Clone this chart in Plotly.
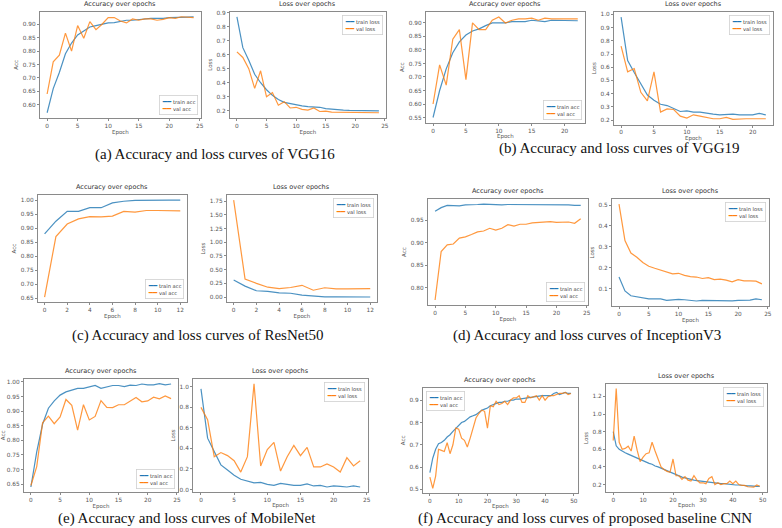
import plotly.graph_objects as go

W, H = 782, 528

# ---------------- data ----------------
vgg16_train_acc = [0.57, 0.66, 0.72, 0.79, 0.83, 0.86, 0.875, 0.89, 0.895, 0.90, 0.905, 0.906, 0.91, 0.915,
                   0.915, 0.918, 0.92, 0.922, 0.922, 0.922, 0.925, 0.925, 0.926, 0.927, 0.928]
vgg16_val_acc = [0.64, 0.76, 0.785, 0.867, 0.80, 0.895, 0.848, 0.91, 0.88, 0.90, 0.925, 0.925, 0.912, 0.905,
                 0.92, 0.915, 0.92, 0.92, 0.915, 0.918, 0.925, 0.922, 0.928, 0.926, 0.925]
vgg16_train_loss = [0.87, 0.65, 0.56, 0.46, 0.40, 0.35, 0.31, 0.28, 0.26, 0.25, 0.245, 0.235, 0.23, 0.228,
                    0.225, 0.215, 0.21, 0.205, 0.205, 0.203, 0.203, 0.20, 0.20, 0.198, 0.20]
vgg16_val_loss = [0.62, 0.58, 0.50, 0.36, 0.485, 0.30, 0.33, 0.24, 0.265, 0.22, 0.225, 0.21, 0.205, 0.22,
                  0.195, 0.198, 0.19, 0.19, 0.19, 0.19, 0.188, 0.188, 0.187, 0.186, 0.186]

vgg19_train_acc = [0.55, 0.65, 0.73, 0.79, 0.83, 0.855, 0.87, 0.878, 0.89, 0.90, 0.90, 0.90, 0.905, 0.905,
                   0.905, 0.91, 0.908, 0.905, 0.91, 0.91, 0.91, 0.91, 0.908]
vgg19_val_acc = [0.60, 0.745, 0.67, 0.84, 0.875, 0.69, 0.90, 0.875, 0.875, 0.91, 0.922, 0.90, 0.91, 0.915,
                 0.915, 0.918, 0.91, 0.918, 0.915, 0.915, 0.915, 0.915, 0.915]
vgg19_train_loss = [0.98, 0.65, 0.56, 0.47, 0.39, 0.35, 0.32, 0.31, 0.29, 0.265, 0.27, 0.26, 0.26, 0.25,
                    0.245, 0.24, 0.245, 0.245, 0.24, 0.24, 0.24, 0.25, 0.24]
vgg19_val_loss = [0.76, 0.565, 0.59, 0.41, 0.345, 0.565, 0.26, 0.285, 0.28, 0.23, 0.215, 0.24, 0.23, 0.22,
                  0.21, 0.21, 0.22, 0.205, 0.21, 0.21, 0.21, 0.21, 0.21]

resnet_train_acc = [0.88, 0.925, 0.96, 0.96, 0.973, 0.973, 0.99, 0.996, 0.999, 1.0, 1.0, 1.0, 1.0]
resnet_val_acc = [0.655, 0.87, 0.915, 0.933, 0.941, 0.94, 0.943, 0.96, 0.957, 0.963, 0.963, 0.962, 0.962]
resnet_train_loss = [0.31, 0.20, 0.115, 0.105, 0.075, 0.07, 0.035, 0.015, 0.005, 0.003, 0.002, 0.002, 0.001]
resnet_val_loss = [1.77, 0.33, 0.25, 0.18, 0.155, 0.175, 0.215, 0.125, 0.17, 0.15, 0.15, 0.15, 0.155]

incep_train_acc = [0.970, 0.978, 0.983, 0.983, 0.982, 0.984, 0.984, 0.985, 0.986, 0.985, 0.984, 0.984, 0.985,
                   0.985, 0.985, 0.985, 0.985, 0.985, 0.984, 0.985, 0.985, 0.985, 0.984, 0.983, 0.983]
incep_val_acc = [0.772, 0.88, 0.895, 0.897, 0.91, 0.913, 0.918, 0.924, 0.926, 0.932, 0.928, 0.932, 0.94,
                 0.937, 0.941, 0.941, 0.944, 0.945, 0.945, 0.947, 0.945, 0.946, 0.946, 0.943, 0.953]
incep_train_loss = [0.155, 0.088, 0.065, 0.06, 0.058, 0.05, 0.05, 0.05, 0.043, 0.047, 0.048, 0.046, 0.042,
                    0.04, 0.043, 0.042, 0.042, 0.041, 0.041, 0.041, 0.043, 0.042, 0.044, 0.05, 0.046]
incep_val_loss = [0.505, 0.33, 0.27, 0.25, 0.225, 0.207, 0.197, 0.187, 0.18, 0.17, 0.173, 0.163, 0.157,
                  0.155, 0.148, 0.152, 0.143, 0.145, 0.14, 0.132, 0.142, 0.137, 0.137, 0.135, 0.122]

mobile_train_acc = [0.64, 0.76, 0.855, 0.91, 0.935, 0.955, 0.966, 0.972, 0.978, 0.978, 0.983, 0.988, 0.978,
                    0.983, 0.988, 0.988, 0.984, 0.989, 0.988, 0.993, 0.99, 0.99, 0.994, 0.99, 0.993]
mobile_val_acc = [0.645, 0.71, 0.86, 0.883, 0.857, 0.88, 0.94, 0.92, 0.835, 0.922, 0.87, 0.882, 0.936,
                  0.913, 0.912, 0.922, 0.922, 0.935, 0.947, 0.932, 0.935, 0.948, 0.942, 0.952, 0.943]
mobile_train_loss = [0.98, 0.50, 0.37, 0.24, 0.19, 0.14, 0.10, 0.08, 0.065, 0.07, 0.05, 0.04, 0.06, 0.05,
                     0.04, 0.04, 0.055, 0.035, 0.04, 0.025, 0.035, 0.03, 0.025, 0.035, 0.025]
mobile_val_loss = [0.80, 0.68, 0.32, 0.36, 0.33, 0.28, 0.17, 0.32, 1.03, 0.23, 0.39, 0.46, 0.18, 0.32,
                   0.43, 0.33, 0.41, 0.22, 0.22, 0.25, 0.22, 0.17, 0.31, 0.23, 0.28]

cnn_train_acc = [0.575, 0.64, 0.68, 0.705, 0.71, 0.72, 0.735, 0.745, 0.76, 0.775, 0.79, 0.80, 0.805, 0.815,
                 0.825, 0.83, 0.835, 0.845, 0.855, 0.86, 0.865, 0.875, 0.88, 0.885, 0.89, 0.89, 0.895, 0.895,
                 0.90, 0.90, 0.905, 0.905, 0.907, 0.91, 0.91, 0.912, 0.915, 0.915, 0.918, 0.92, 0.92, 0.92,
                 0.92, 0.93, 0.935, 0.925, 0.93, 0.935, 0.93, 0.93]
cnn_val_acc = [0.555, 0.505, 0.56, 0.68, 0.675, 0.67, 0.71, 0.66, 0.70, 0.775, 0.77, 0.73, 0.72, 0.69,
               0.73, 0.78, 0.82, 0.84, 0.855, 0.85, 0.775, 0.875, 0.87, 0.895, 0.88, 0.885, 0.895, 0.88,
               0.90, 0.91, 0.91, 0.92, 0.89, 0.89, 0.92, 0.91, 0.915, 0.92, 0.90, 0.92, 0.90, 0.915, 0.92,
               0.92, 0.925, 0.93, 0.93, 0.935, 0.925, 0.93]
cnn_train_loss = [0.80, 0.64, 0.60, 0.575, 0.56, 0.545, 0.53, 0.51, 0.50, 0.48, 0.47, 0.45, 0.44, 0.43,
                  0.41, 0.40, 0.385, 0.37, 0.355, 0.34, 0.325, 0.31, 0.30, 0.285, 0.275, 0.265, 0.255, 0.25,
                  0.245, 0.24, 0.235, 0.23, 0.225, 0.22, 0.22, 0.215, 0.21, 0.21, 0.205, 0.20, 0.20, 0.195,
                  0.195, 0.19, 0.19, 0.185, 0.185, 0.18, 0.18, 0.18]
cnn_val_loss = [0.70, 1.29, 0.68, 0.60, 0.61, 0.635, 0.58, 0.75, 0.59, 0.46, 0.51, 0.55, 0.56, 0.68, 0.58,
                0.48, 0.40, 0.37, 0.35, 0.34, 0.49, 0.30, 0.30, 0.26, 0.29, 0.25, 0.24, 0.30, 0.25, 0.22,
                0.22, 0.21, 0.27, 0.29, 0.20, 0.22, 0.20, 0.21, 0.21, 0.24, 0.21, 0.24, 0.20, 0.19, 0.19,
                0.175, 0.17, 0.17, 0.195, 0.18]

captions = ["(a) Accuracy and loss curves of VGG16",
            "(b) Accuracy and loss curves of VGG19",
            "(c) Accuracy and loss curves of ResNet50",
            "(d) Accuracy and loss curves of InceptionV3",
            "(e) Accuracy and loss curves of MobileNet",
            "(f) Accuracy and loss curves of proposed baseline CNN"]

# ---------------- layout description ----------------
BLUE, ORANGE = "#1f77b4", "#ff7f0e"
FONT = "DejaVu Sans"

# box = (left, right, top, bottom) in pixels
panels = [
    dict(kind="acc", tr=vgg16_train_acc, va=vgg16_val_acc, box=(39, 201, 10, 116), dy=0.05, fmt=".2f", dx=5, leg="br"),
    dict(kind="loss", tr=vgg16_train_loss, va=vgg16_val_loss, box=(230, 387, 10, 116), dy=0.1, fmt=".1f", dx=5, leg="tr"),
    dict(kind="acc", tr=vgg19_train_acc, va=vgg19_val_acc, box=(427, 587, 10, 121), dy=0.05, fmt=".2f", dx=5, leg="br"),
    dict(kind="loss", tr=vgg19_train_loss, va=vgg19_val_loss, box=(616, 776, 10, 123), dy=0.1, fmt=".1f", dx=5, leg="tr"),
    dict(kind="acc", tr=resnet_train_acc, va=resnet_val_acc, box=(37, 187, 194, 301), dy=0.05, fmt=".2f", dx=2, leg="br"),
    dict(kind="loss", tr=resnet_train_loss, va=resnet_val_loss, box=(227, 378, 194, 301), dy=0.25, fmt=".2f", dx=2, leg="tr"),
    dict(kind="acc", tr=incep_train_acc, va=incep_val_acc, box=(429, 590, 198, 304), dy=0.05, fmt=".2f", dx=5, leg="br"),
    dict(kind="loss", tr=incep_train_loss, va=incep_val_loss, box=(614, 772, 198, 305), dy=0.1, fmt=".1f", dx=5, leg="tr"),
    dict(kind="acc", tr=mobile_train_acc, va=mobile_val_acc, box=(23, 178, 378, 492), dy=0.05, fmt=".2f", dx=5, leg="br"),
    dict(kind="loss", tr=mobile_train_loss, va=mobile_val_loss, box=(193, 369, 378, 492), dy=0.2, fmt=".1f", dx=5, leg="tr"),
    dict(kind="acc", tr=cnn_train_acc, va=cnn_val_acc, box=(424, 580, 387, 493), dy=0.1, fmt=".1f", dx=10, leg="tl"),
    dict(kind="loss", tr=cnn_train_loss, va=cnn_val_loss, box=(608, 770, 383, 492), dy=0.2, fmt=".1f", dx=10, leg="tr"),
]

caption_pos = [(215, 153), (622, 147), (198, 335), (589, 335), (187, 518), (587, 518)]

fig = go.Figure()
layout = dict(width=W, height=H, margin=dict(l=0, r=0, t=0, b=0),
              paper_bgcolor="white", plot_bgcolor="white", showlegend=False,
              font=dict(family=FONT, color="#333"))
annotations = []

for i, p in enumerate(panels, start=1):
    sfx = "" if i == 1 else str(i)
    n = len(p["tr"])
    epochs = list(range(n))
    left, right, top, bottom = p["box"]
    fig.add_trace(go.Scatter(x=epochs, y=p["tr"], mode="lines", name="train " + p["kind"],
                             line=dict(color=BLUE, width=1.2), opacity=0.8,
                             xaxis="x" + sfx, yaxis="y" + sfx))
    fig.add_trace(go.Scatter(x=epochs, y=p["va"], mode="lines", name="val " + p["kind"],
                             line=dict(color=ORANGE, width=1.2), opacity=0.8,
                             xaxis="x" + sfx, yaxis="y" + sfx))
    lo = min(min(p["tr"]), min(p["va"]))
    hi = max(max(p["tr"]), max(p["va"]))
    pad = 0.05 * (hi - lo)
    xpad = 0.05 * (n - 1)
    axis_common = dict(showline=True, mirror=True, linecolor="#8a8a8a", linewidth=1,
                       showgrid=False, zeroline=False, ticks="outside", ticklen=2,
                       tickwidth=0.8, tickcolor="#8a8a8a",
                       tickfont=dict(size=5.8, family=FONT, color="#555"))
    layout["xaxis" + sfx] = dict(domain=[left / W, right / W], anchor="y" + sfx,
                                 range=[-xpad, n - 1 + xpad], tick0=0, dtick=p["dx"],
                                 title=dict(text="Epoch", font=dict(size=5.5, family=FONT, color="#555"),
                                            standoff=1), **axis_common)
    layout["yaxis" + sfx] = dict(domain=[1 - bottom / H, 1 - top / H], anchor="x" + sfx,
                                 range=[lo - pad, hi + pad], tick0=0, dtick=p["dy"],
                                 tickformat=p["fmt"],
                                 title=dict(text="Acc" if p["kind"] == "acc" else "Loss",
                                            font=dict(size=5.5, family=FONT, color="#555"), standoff=3),
                                 **axis_common)
    # legend (matplotlib style) drawn as a boxed annotation inside the axes
    kind = p["kind"]
    leg_text = (f'<span style="color:{BLUE};font-size:7px">━━</span> train {kind}<br>'
                f'<span style="color:{ORANGE};font-size:7px">━━</span> val {kind}')
    if p["leg"] == "br":
        lx, ly, xa, ya = (right - 3) / W, 1 - (bottom - 3) / H, "right", "bottom"
    elif p["leg"] == "tr":
        lx, ly, xa, ya = (right - 3) / W, 1 - (top + 3) / H, "right", "top"
    else:
        lx, ly, xa, ya = (left + 3) / W, 1 - (top + 3) / H, "left", "top"
    annotations.append(dict(text=leg_text, x=lx, y=ly, xref="paper", yref="paper",
                            xanchor=xa, yanchor=ya, align="left", showarrow=False,
                            bgcolor="rgba(255,255,255,0.85)", bordercolor="#d0d0d0",
                            borderwidth=0.8, borderpad=2,
                            font=dict(size=5.2, family=FONT, color="#444")))
    annotations.append(dict(text="Accuracy over epochs" if kind == "acc" else "Loss over epochs",
                            x=(left + right) / 2 / W, y=1 - (top - 2) / H, xref="paper", yref="paper",
                            xanchor="center", yanchor="bottom", showarrow=False,
                            font=dict(size=6.5, family=FONT, color="#333")))

for text, (cx, cy) in zip(captions, caption_pos):
    annotations.append(dict(text=text, x=cx / W, y=1 - cy / H, xref="paper", yref="paper",
                            xanchor="center", yanchor="middle", showarrow=False,
                            font=dict(size=15, family="Liberation Serif", color="#111")))

layout["annotations"] = annotations
fig.update_layout(**layout)
fig.write_html("out.html", config={"displayModeBar": False},
               post_script="document.body.style.margin='0';document.body.style.overflow='hidden';")
